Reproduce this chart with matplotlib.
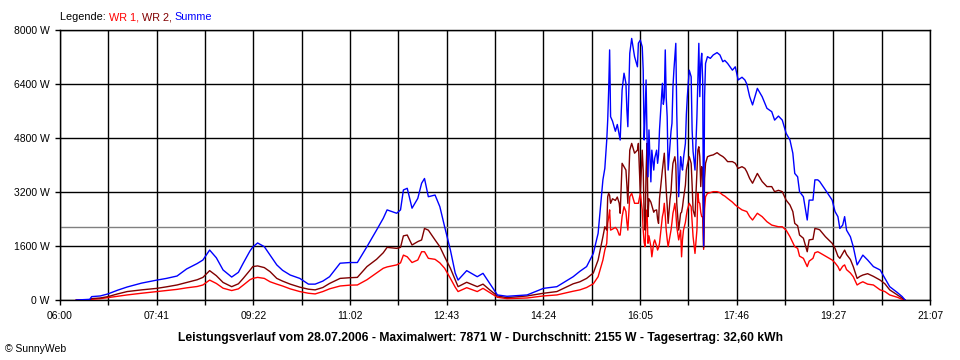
import matplotlib
matplotlib.use('Agg')
from matplotlib import pyplot
import numpy as np

## data (28.07.2006)
times = ['06:17', '06:31', '06:33', '06:42', '06:50', '07:00', '07:10', '07:25', '07:41', '07:51',
         '08:02', '08:12', '08:23', '08:29', '08:36', '08:43', '08:50', '08:59', '09:06', '09:11',
         '09:18', '09:21', '09:26', '09:33', '09:39', '09:46', '09:52', '10:00', '10:10', '10:19',
         '10:26', '10:34', '10:41', '10:52', '11:02', '11:10', '11:20', '11:30', '11:37', '11:41',
         '11:51', '11:55', '11:58', '12:02', '12:07', '12:13', '12:17', '12:20', '12:24', '12:31',
         '12:36', '12:41', '12:47', '12:52', '12:55', '13:04', '13:15', '13:21', '13:28', '13:36',
         '13:46', '14:07', '14:24', '14:38', '14:55', '15:02', '15:09', '15:16', '15:21', '15:26',
         '15:28', '15:30', '15:31', '15:32', '15:33', '15:34', '15:36', '15:39', '15:41', '15:43',
         '15:44', '15:46', '15:48', '15:50', '15:51', '15:52', '15:54', '15:56', '15:59', '16:02',
         '16:03', '16:05', '16:07', '16:08', '16:09', '16:10', '16:11', '16:12', '16:13', '16:14',
         '16:16', '16:17', '16:19', '16:20', '16:22', '16:23', '16:24', '16:25', '16:28', '16:29',
         '16:30', '16:31', '16:32', '16:33', '16:34', '16:36', '16:37', '16:38', '16:39', '16:40',
         '16:41', '16:42', '16:43', '16:45', '16:47', '16:48', '16:49', '16:50', '16:52', '16:53',
         '16:54', '16:56', '16:58', '16:59', '17:00', '17:02', '17:04', '17:05', '17:06', '17:07',
         '17:08', '17:09', '17:10', '17:11', '17:12', '17:13', '17:15', '17:18', '17:21', '17:25',
         '17:28', '17:31', '17:33', '17:36', '17:41', '17:44', '17:47', '17:51', '17:54', '17:56',
         '17:59', '18:02', '18:07', '18:12', '18:17', '18:22', '18:25', '18:29', '18:33', '18:37',
         '18:41', '18:44', '18:46', '18:49', '18:51', '18:55', '18:59', '19:01', '19:05', '19:07',
         '19:10', '19:12', '19:18', '19:25', '19:28', '19:31', '19:33', '19:36', '19:38', '19:40',
         '19:44', '19:47', '19:51', '19:54', '19:57', '20:02', '20:08', '20:15', '20:20', '20:25',
         '20:33', '20:38', '20:41']

summe = [0, 20, 100, 120, 180, 290, 385, 500, 590, 640,
         710, 920, 1080, 1185, 1480, 1250, 890, 680, 820, 1090,
         1450, 1570, 1690, 1580, 1330, 1040, 880, 740, 640, 470,
         470, 560, 690, 1090, 1110, 1110, 1580, 2070, 2420, 2670,
         2570, 2670, 3260, 3310, 2720, 3010, 3460, 3600, 3060, 3110,
         2765, 2170, 1480, 800, 590, 870, 690, 790, 490, 150,
         110, 150, 345, 395, 690, 850, 990, 1380, 1975, 3560,
         3900, 4740, 5330, 6220, 7410, 5430, 5300, 5000, 5200, 4900,
         4740, 6220, 6720, 6420, 5630, 5135, 7310, 7750, 7210, 6910,
         7610, 7700, 7500, 6810, 4740, 5500, 6520, 4840, 3650, 5040,
         3500, 4440, 3850, 4200, 4440, 4050, 4300, 5040, 6420, 5800,
         6000, 7410, 6000, 5430, 3850, 4640, 5000, 5235, 6300, 6810,
         7200, 7605, 5530, 3060, 4245, 4000, 3850, 4200, 4640, 5500,
         6025, 6810, 6615, 5040, 4400, 3850, 5430, 6520, 7605, 6025,
         7000, 7310, 6520, 1600, 6025, 7010, 7210, 7160, 7260, 7330,
         7260, 7060, 7100, 7010, 6810, 6910, 6520, 6600, 6520, 6400,
         6025, 5780, 6270, 6025, 5680, 5580, 5330, 5450, 5330, 4940,
         4740, 4350, 3750, 3650, 3210, 3060, 2370, 2960, 2960, 3560,
         3560, 3510, 3260, 2960, 2620, 2470, 2120, 2220, 2470, 2070,
         1875, 1580, 1040, 1185, 1330, 1185, 990, 890, 640, 395,
         220, 100, 0]

wr2 = [0, 0, 40, 60, 100, 180, 250, 300, 345, 390,
       445, 520, 600, 670, 870, 720, 520, 395, 480, 640,
       880, 990, 1010, 960, 840, 640, 560, 470, 380, 320,
       300, 370, 490, 640, 660, 670, 990, 1205, 1400, 1560,
       1530, 1560, 1900, 1925, 1630, 1730, 1780, 2120, 2070, 1780,
       1580, 1280, 940, 600, 395, 525, 395, 470, 300, 120,
       70, 120, 200, 250, 480, 540, 640, 800, 1185, 1875,
       2170, 2070, 3060, 3160, 3100, 2865, 3000, 2950, 3050, 2865,
       2570, 4050, 3950, 3850, 3400, 2865, 4440, 4640, 4350, 4440,
       4640, 3160, 4440, 3850, 2500, 2070, 3800, 4640, 2470, 3000,
       2900, 2800, 2600, 2650, 2670, 2400, 2270, 3000, 3850, 4100,
       4350, 3800, 3260, 2800, 2270, 3000, 3200, 3700, 4050, 4150,
       4245, 4000, 2865, 2070, 2570, 2600, 2765, 3000, 3400, 3850,
       4000, 4245, 4050, 3400, 2670, 2470, 3750, 4440, 4540, 4245,
       3360, 3950, 3850, 1550, 3600, 4050, 4245, 4280, 4300, 4365,
       4300, 4250, 4200, 4100, 4100, 4050, 3900, 3950, 3900, 3800,
       3600, 3460, 3750, 3510, 3360, 3360, 3210, 3250, 3210, 2960,
       2815, 2620, 2270, 2200, 1925, 1830, 1430, 1780, 1800, 2120,
       2100, 2080, 1875, 1680, 1530, 1300, 1235, 1380, 1480, 1350,
       1200, 990, 640, 700, 740, 780, 700, 590, 480, 300,
       150, 60, 0]

wr1 = [0, 0, 20, 40, 70, 110, 150, 200, 250, 280,
       315, 360, 400, 445, 590, 490, 350, 280, 330, 440,
       600, 640, 670, 640, 540, 470, 415, 330, 250, 200,
       180, 250, 330, 415, 440, 445, 600, 800, 940, 980,
       1040, 1100, 1330, 1280, 1110, 1185, 1430, 1430, 1235, 1205,
       1100, 940, 640, 380, 250, 365, 250, 345, 220, 80,
       40, 60, 120, 150, 260, 300, 370, 480, 690, 1185,
       1480, 1680, 2270, 2450, 2670, 2070, 2100, 2150, 2080, 1925,
       1925, 2470, 2765, 2620, 2300, 2070, 3060, 3160, 2865, 2865,
       2865, 3160, 2670, 2070, 1700, 1580, 2400, 2670, 1680, 1900,
       1580, 1280, 1700, 1780, 1600, 1480, 1550, 1680, 2470, 2600,
       2865, 2500, 2070, 1800, 1580, 1900, 2070, 2300, 2570, 2700,
       2865, 2600, 2170, 1780, 2070, 1280, 1800, 2070, 2300, 2500,
       2670, 2865, 2765, 2300, 1875, 1380, 2070, 3160, 2900, 2865,
       2600, 2470, 2470, 1500, 2700, 3060, 3160, 3180, 3210, 3210,
       3180, 3110, 3080, 3010, 2900, 2815, 2750, 2670, 2640, 2620,
       2470, 2370, 2570, 2470, 2320, 2220, 2200, 2170, 2170, 2070,
       1875, 1700, 1580, 1530, 1300, 1235, 990, 1150, 1235, 1400,
       1430, 1400, 1300, 1185, 1100, 990, 870, 1000, 1040, 900,
       800, 690, 445, 500, 540, 470, 445, 300, 250, 150,
       80, 20, 0]

y_ticks = [0, 1600, 3200, 4800, 6400, 8000]
x_labels = ['06:00', '07:41', '09:22', '11:02', '12:43', '14:24', '16:05', '17:46', '19:27', '21:07']
mean_power = 2155
title = ('Leistungsverlauf vom 28.07.2006 - Maximalwert: 7871 W - '
         'Durchschnitt: 2155 W - Tagesertrag: 32,60 kWh')

assert len(times) == len(summe) == len(wr2) == len(wr1)


def to_min(s):
    h, m = s.split(':')
    return int(h) * 60 + int(m)


t = np.array([to_min(s) for s in times])
t_start, t_end = to_min(x_labels[0]), to_min(x_labels[-1])

c_wr1, c_wr2, c_sum = '#ff0000', '#800000', '#0000ff'

pyplot.rcParams['font.family'] = ['Liberation Sans', 'DejaVu Sans']
pyplot.rcParams['font.size'] = 7.5

fig = pyplot.figure(figsize=(9.6, 3.6), dpi=100)
ax = fig.add_axes([60 / 960, 60 / 360, 870 / 960, 270 / 360])

ax.axhline(mean_power, color='#808080', lw=1.0, zorder=1)
ax.plot(t, wr1, color=c_wr1, lw=1.0, zorder=3)
ax.plot(t, wr2, color=c_wr2, lw=1.0, zorder=4)
ax.plot(t, summe, color=c_sum, lw=1.0, zorder=5)

# 18 grid intervals, every second one labelled
x_ticks = np.linspace(t_start, t_end, 19)
ax.set_xticks(x_ticks)
ax.set_xticklabels([x_labels[i // 2] if i % 2 == 0 else '' for i in range(19)])
ax.set_yticks(y_ticks)
ax.set_yticklabels(['%d W' % v for v in y_ticks])
ax.set_xlim(t_start, t_end)
ax.set_ylim(0, 8000)
ax.grid(True, color='black', lw=1.0, zorder=0)
ax.set_axisbelow(True)
for sp in ax.spines.values():
    sp.set_linewidth(1.0)
ax.tick_params(direction='out', length=3.6, width=1.0, labelsize=7.5, pad=4)

# coloured legend line at the top
txt = fig.text(60 / 960, 1 - 22 / 360, 'Legende: ', color='black', va='bottom', fontsize=7.8)
for s, c in [('WR 1, ', c_wr1), ('WR 2, ', c_wr2), ('Summe', c_sum)]:
    txt = ax.annotate(s, xy=(1, 0), xycoords=txt, va='bottom', color=c, fontsize=7.8)

fig.text(480 / 960, 1 - 338 / 360, title, ha='center', va='center', fontsize=8.7, fontweight='bold')
fig.text(5 / 960, 1 - 349 / 360, '\u00a9 SunnyWeb', ha='left', va='center', fontsize=7.5)

pyplot.savefig('out.png', dpi=100)
